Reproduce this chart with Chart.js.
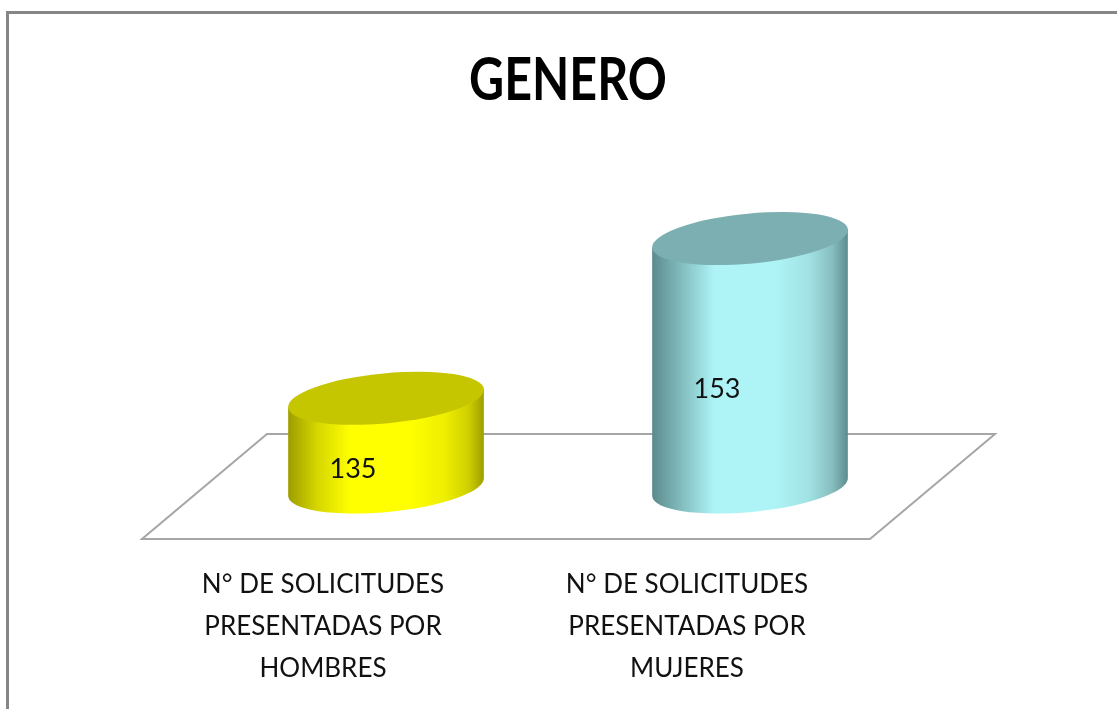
<!DOCTYPE html>
<html><head><meta charset="utf-8">
<style>html,body{margin:0;padding:0;background:#fff}#w{position:relative;width:1117px;height:709px}canvas{display:block}</style>
<script src="https://cdn.jsdelivr.net/npm/chart.js@4"></script>
</head><body><div id="w"><canvas id="c" width="1117" height="709"></canvas></div>
<script>
const categories = [
  ["N° DE SOLICITUDES","PRESENTADAS POR","HOMBRES"],
  ["N° DE SOLICITUDES","PRESENTADAS POR","MUJERES"]
];
const seriesName = "GENERO";
const values = [135, 153];
const axisMin = 125;
const axisMax = 155;
const palette = [
  {edge:'#9c9c00',soft:'#d6d600',mid:'#ffff00',soft2:'#eeee00',soft3:'#cfcf00',top:'#c6c600'},
  {edge:'#5b8a8c',soft:'#82bcbe',mid:'#aef4f7',soft2:'#a2e2e4',soft3:'#86bdbf',top:'#7cafb2'}
];
const cylinders = {
  id:'cylinders',
  afterLayout(chart){
    const t=chart.titleBlock;
    if(t && !t._narrowed){
      const orig=t.draw.bind(t);
      t.draw=function(){
        const ctx=chart.ctx,c=t.left+t.width/2;
        ctx.save();ctx.translate(c,0);ctx.scale(0.82,1);ctx.translate(-c,0);
        orig();
        ctx.restore();
      };
      t._narrowed=true;
    }
  },
  beforeDraw(chart){
    const {ctx,width,height}=chart;
    ctx.save();
    ctx.fillStyle='#fff';ctx.fillRect(0,0,width,height);
    ctx.strokeStyle='#868686';ctx.lineWidth=3;
    ctx.strokeRect(7.5,12.5,width+20,height+20);
    ctx.restore();
  },
  beforeDatasetsDraw(chart){
    const {ctx,scales:{x,y}}=chart;
    const by=y.getPixelForValue(axisMin);
    const l=x.left,r=x.right;
    ctx.save();
    ctx.strokeStyle='#a6a6a6';ctx.lineWidth=2;
    ctx.beginPath();
    ctx.moveTo(l-62,by+52);ctx.lineTo(r-62,by+52);
    ctx.lineTo(r+63,by-53);ctx.lineTo(l+63,by-53);ctx.closePath();
    ctx.fillStyle='#fff';ctx.fill();ctx.stroke();
    ctx.restore();
  },
  afterDatasetsDraw(chart){
    const {ctx,scales:{y}}=chart;
    const meta=chart.getDatasetMeta(0);
    meta.data.forEach((b,i)=>{
      const cx=b.x,w=b.width,top=b.y,bot=y.getPixelForValue(axisMin);
      const rx=w/2,ry=25,rot=-0.095;
      const dy=rx*Math.sin(rot),dx=rx*Math.cos(rot);
      const g=ctx.createLinearGradient(cx-rx,0,cx+rx,0);
      const p=palette[i];
      g.addColorStop(0,p.edge);g.addColorStop(0.15,p.soft);g.addColorStop(0.32,p.mid);
      g.addColorStop(0.62,p.mid);g.addColorStop(0.8,p.soft2);g.addColorStop(0.92,p.soft3);g.addColorStop(1,p.edge);
      ctx.save();
      ctx.fillStyle=g;
      ctx.beginPath();
      ctx.ellipse(cx,bot,rx,ry,rot,Math.PI,0,true);
      ctx.lineTo(cx+dx,top+dy);
      ctx.lineTo(cx-dx,top-dy);
      ctx.closePath();ctx.fill();
      ctx.fillStyle=p.top;
      ctx.beginPath();ctx.ellipse(cx,top,rx,ry,rot,0,Math.PI*2);ctx.fill();
      ctx.fillStyle='#111';
      ctx.font='27px Lato';ctx.textAlign='center';ctx.textBaseline='middle';
      ctx.fillText(String(values[i]),cx-33,(top+bot)/2+27);
      ctx.restore();
    });
  }
};
new Chart(document.getElementById('c'),{
  type:'bar',
  data:{labels:categories,datasets:[{label:seriesName,data:values,backgroundColor:'rgba(0,0,0,0)',borderWidth:0,categoryPercentage:0.54,barPercentage:1}]},
  plugins:[cylinders],
  options:{
    responsive:false,animation:false,
    layout:{padding:{left:204,right:185,top:0,bottom:0}},
    plugins:{
      legend:{display:false},tooltip:{enabled:false},
      title:{display:true,text:'GENERO',color:'#000',font:{family:'Lato',size:59,weight:'bold'},padding:{top:46,bottom:104}}
    },
    scales:{
      x:{grid:{display:false},border:{display:false},
         afterFit(s){s.height=222;},
         ticks:{color:'#111',font:{family:'Lato',size:26,lineHeight:1.63},padding:68,labelOffset:-63,maxRotation:0,autoSkip:false}},
      y:{display:false,min:axisMin,max:axisMax}
    }
  }
});
</script></body></html>
